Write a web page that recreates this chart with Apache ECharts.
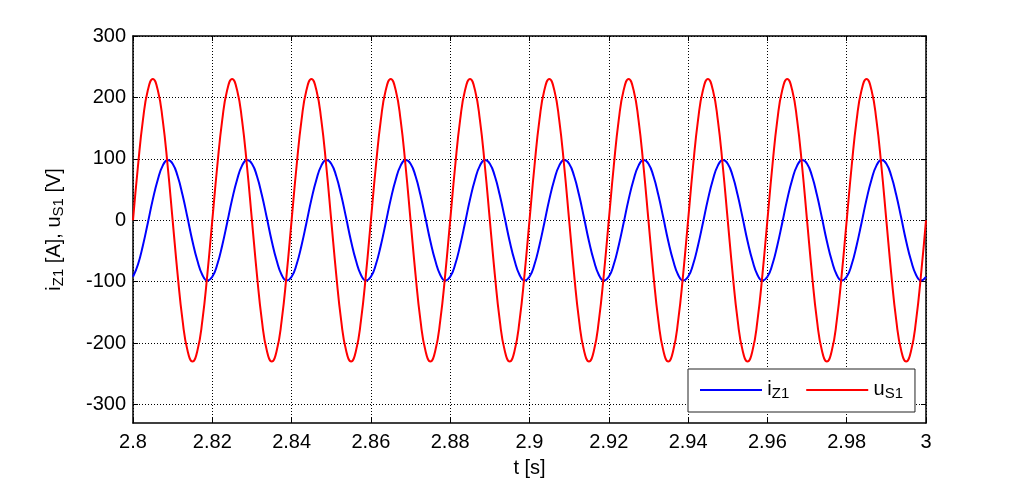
<!DOCTYPE html>
<html>
<head>
<meta charset="utf-8">
<script src="https://cdn.jsdelivr.net/npm/echarts@6/dist/echarts.min.js"></script>
<style>html,body{margin:0;padding:0;background:#fff;}#c{width:1023px;height:480px;}</style>
</head>
<body>
<div id="c"></div>
<script>
const times = [
2.8,2.80125,2.8025,2.80375,2.805,2.80625,2.8075,2.80875,2.81,2.81125,2.8125,2.81375,2.815,2.81625,2.8175,2.81875,
2.82,2.82125,2.8225,2.82375,2.825,2.82625,2.8275,2.82875,2.83,2.83125,2.8325,2.83375,2.835,2.83625,2.8375,2.83875,
2.84,2.84125,2.8425,2.84375,2.845,2.84625,2.8475,2.84875,2.85,2.85125,2.8525,2.85375,2.855,2.85625,2.8575,2.85875,
2.86,2.86125,2.8625,2.86375,2.865,2.86625,2.8675,2.86875,2.87,2.87125,2.8725,2.87375,2.875,2.87625,2.8775,2.87875,
2.88,2.88125,2.8825,2.88375,2.885,2.88625,2.8875,2.88875,2.89,2.89125,2.8925,2.89375,2.895,2.89625,2.8975,2.89875,
2.9,2.90125,2.9025,2.90375,2.905,2.90625,2.9075,2.90875,2.91,2.91125,2.9125,2.91375,2.915,2.91625,2.9175,2.91875,
2.92,2.92125,2.9225,2.92375,2.925,2.92625,2.9275,2.92875,2.93,2.93125,2.9325,2.93375,2.935,2.93625,2.9375,2.93875,
2.94,2.94125,2.9425,2.94375,2.945,2.94625,2.9475,2.94875,2.95,2.95125,2.9525,2.95375,2.955,2.95625,2.9575,2.95875,
2.96,2.96125,2.9625,2.96375,2.965,2.96625,2.9675,2.96875,2.97,2.97125,2.9725,2.97375,2.975,2.97625,2.9775,2.97875,
2.98,2.98125,2.9825,2.98375,2.985,2.98625,2.9875,2.98875,2.99,2.99125,2.9925,2.99375,2.995,2.99625,2.9975,2.99875,
3
];
const iZ1 = [
-92,-72,-41,-4,34,66,89,98,92,72,41,4,-34,-66,-89,-98,
-92,-72,-41,-4,34,66,89,98,92,72,41,4,-34,-66,-89,-98,
-92,-72,-41,-4,34,66,89,98,92,72,41,4,-34,-66,-89,-98,
-92,-72,-41,-4,34,66,89,98,92,72,41,4,-34,-66,-89,-98,
-92,-72,-41,-4,34,66,89,98,92,72,41,4,-34,-66,-89,-98,
-92,-72,-41,-4,34,66,89,98,92,72,41,4,-34,-66,-89,-98,
-92,-72,-41,-4,34,66,89,98,92,72,41,4,-34,-66,-89,-98,
-92,-72,-41,-4,34,66,89,98,92,72,41,4,-34,-66,-89,-98,
-92,-72,-41,-4,34,66,89,98,92,72,41,4,-34,-66,-89,-98,
-92,-72,-41,-4,34,66,89,98,92,72,41,4,-34,-66,-89,-98,
-92
];
const uS1 = [
0,88,163,212,230,212,163,88,0,-88,-163,-212,-230,-212,-163,-88,
0,88,163,212,230,212,163,88,0,-88,-163,-212,-230,-212,-163,-88,
0,88,163,212,230,212,163,88,0,-88,-163,-212,-230,-212,-163,-88,
0,88,163,212,230,212,163,88,0,-88,-163,-212,-230,-212,-163,-88,
0,88,163,212,230,212,163,88,0,-88,-163,-212,-230,-212,-163,-88,
0,88,163,212,230,212,163,88,0,-88,-163,-212,-230,-212,-163,-88,
0,88,163,212,230,212,163,88,0,-88,-163,-212,-230,-212,-163,-88,
0,88,163,212,230,212,163,88,0,-88,-163,-212,-230,-212,-163,-88,
0,88,163,212,230,212,163,88,0,-88,-163,-212,-230,-212,-163,-88,
0,88,163,212,230,212,163,88,0,-88,-163,-212,-230,-212,-163,-88,
0
];
const yTicks = [-300,-200,-100,0,100,200,300];
const seriesNames = ['iZ1','uS1'];
const seriesColors = ['#0000ff','#ff0000'];

const font = 'Liberation Sans, Arial, sans-serif';
const chart = echarts.init(document.getElementById('c'));
const tickStyle = {show:true, inside:true, length:5, lineStyle:{color:'#000', width:1}};
const axisLineStyle = {show:true, onZero:false, lineStyle:{color:'#000', width:1.5}};
const splitStyle = {show:true, lineStyle:{color:'#000', width:1, type:[1,2]}};
const richTxt = {
  z:{fontFamily:font, fontSize:1, lineHeight:22},
  n:{fontFamily:font, fontSize:20, color:'#000', lineHeight:16, verticalAlign:'top'},
  s:{fontFamily:font, fontSize:15, color:'#000', lineHeight:6, verticalAlign:'bottom'}
};
chart.setOption({
  animation:false,
  backgroundColor:'#fff',
  grid:{left:133, right:97, top:36, bottom:57, containLabel:false, outerBoundsMode:'none'},
  legend:{
    left:688, top:369, orient:'horizontal',
    backgroundColor:'#fff', borderColor:'#222', borderWidth:1,
    padding:[10,12,11,12], itemWidth:62, itemHeight:2, itemGap:17,
    icon:'rect',
    data:seriesNames,
    formatter:function(name){
      return name==='iZ1' ? '{z| }{n|i}{s|Z1}' : '{z| }{n|u}{s|S1}';
    },
    textStyle:{rich:richTxt}
  },
  xAxis:[{
    type:'value', min:2.8, max:3, interval:0.02,
    name:'t [s]', nameLocation:'middle', nameGap:35, nameMoveOverlap:false,
    nameTextStyle:{fontFamily:font, fontSize:20, color:'#000'},
    axisLine:axisLineStyle, axisTick:tickStyle,
    axisLabel:{fontFamily:font, fontSize:20, color:'#000', margin:9},
    splitLine:splitStyle
  },{
    type:'value', position:'top', min:2.8, max:3, interval:0.02,
    axisLine:axisLineStyle, axisTick:tickStyle, axisLabel:{show:false}, splitLine:{show:false}
  }],
  yAxis:[{
    type:'value', min:-330, max:300,
    name:'{z| }{n|i}{s|Z1}{n| [A], u}{s|S1}{n| [V]}', nameLocation:'middle', nameRotate:90, nameGap:67, nameMoveOverlap:false,
    nameTextStyle:{rich:richTxt},
    axisLine:axisLineStyle,
    axisTick:Object.assign({customValues:yTicks}, tickStyle),
    axisLabel:{customValues:yTicks, fontFamily:font, fontSize:20, color:'#000', margin:7},
    splitLine:splitStyle
  },{
    type:'value', position:'right', min:-330, max:300,
    axisLine:axisLineStyle,
    axisTick:Object.assign({customValues:yTicks}, tickStyle),
    axisLabel:{show:false, customValues:yTicks}, splitLine:{show:false}
  }],
  series:[{
    name:seriesNames[0], type:'line', xAxisIndex:0, yAxisIndex:0,
    data:times.map((t,i)=>[t,iZ1[i]]),
    smooth:0.5, symbol:'none', lineStyle:{color:seriesColors[0], width:2}, itemStyle:{color:seriesColors[0]}
  },{
    name:seriesNames[1], type:'line', xAxisIndex:0, yAxisIndex:0,
    data:times.map((t,i)=>[t,uS1[i]]),
    smooth:0.5, symbol:'none', lineStyle:{color:seriesColors[1], width:2}, itemStyle:{color:seriesColors[1]}
  }]
});
</script>
</body>
</html>
